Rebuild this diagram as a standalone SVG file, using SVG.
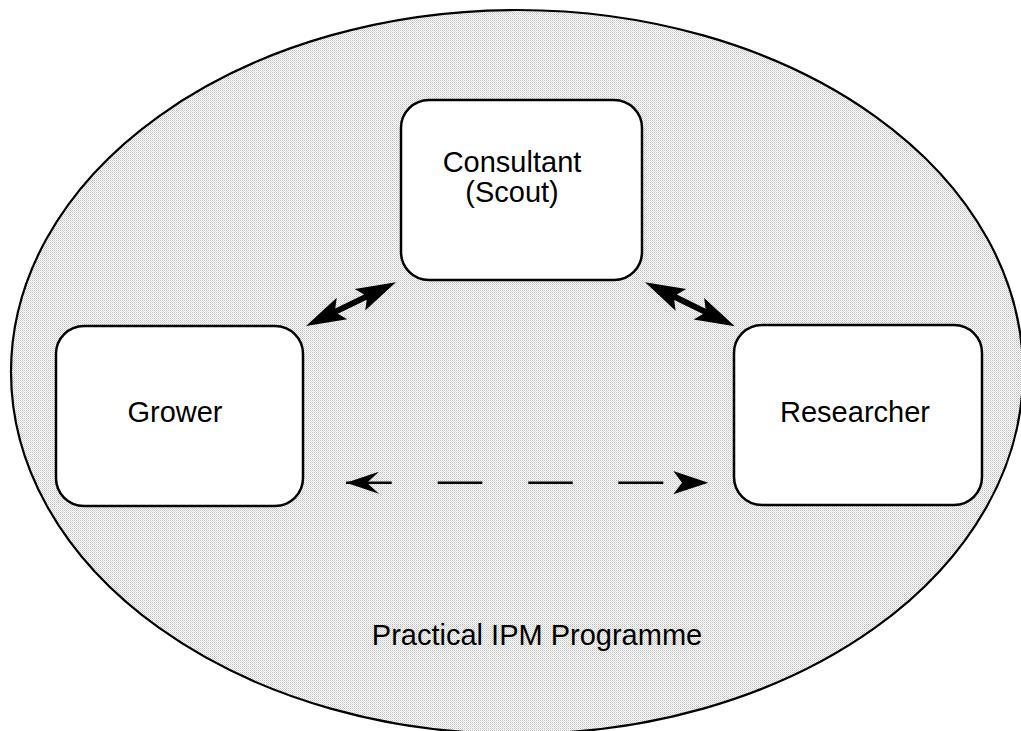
<svg xmlns="http://www.w3.org/2000/svg" width="1021" height="731" viewBox="0 0 1021 731">
  <defs>
    <!-- fine dither fill for the programme area -->
    <pattern id="dither" patternUnits="userSpaceOnUse" x="0" y="0" width="2" height="2">
      <rect width="2" height="2" fill="#ffffff"/>
      <rect x="0" y="0" width="1" height="1" fill="#c0c0c0"/>
      <rect x="1" y="1" width="1" height="1" fill="#d8d8d8"/>
    </pattern>
    <!-- solid double-headed arrow, 100 units long along +x -->
    <polygon id="dbl" points="0,0 40,-12 34,-3 66,-3 60,-12 100,0 60,12 66,3 34,3 40,12"/>
    <marker id="barb" viewBox="0 0 34 22" refX="33" refY="11" markerWidth="34" markerHeight="22" markerUnits="userSpaceOnUse" orient="auto-start-reverse">
      <polygon points="33,11 0,0 12,11 0,22" fill="#000"/>
    </marker>
  </defs>
  <style>
    .box { fill: #ffffff; stroke: #000000; stroke-width: 2.5; }
    .lbl { font-family: "Liberation Sans", Arial, sans-serif; font-size: 29px; fill: #000000; text-anchor: middle; }
    .dash { stroke: #000000; stroke-width: 2.5; fill: none; }
  </style>

  <g id="programme">
    <ellipse cx="517" cy="372" rx="506" ry="362" fill="url(#dither)" stroke="#000" stroke-width="2.2"/>
    <text class="lbl" x="537" y="645">Practical IPM Programme</text>
  </g>

  <g id="consultant">
    <rect class="box" x="401" y="100" width="241" height="180" rx="28" ry="28"/>
    <text class="lbl" x="512" y="172">Consultant</text>
    <text class="lbl" x="512" y="202">(Scout)</text>
  </g>

  <g id="grower">
    <rect class="box" x="56" y="326" width="247" height="180" rx="28" ry="28"/>
    <text class="lbl" x="175" y="422">Grower</text>
  </g>

  <g id="researcher">
    <rect class="box" x="734" y="325" width="248" height="180" rx="28" ry="28"/>
    <text class="lbl" x="855" y="422">Researcher</text>
  </g>

  <g id="connectors">
    <use href="#dbl" transform="translate(306,326) rotate(-25.9)"/>
    <use href="#dbl" transform="translate(645,282.3) rotate(26.1)"/>
    <line class="dash" x1="346" y1="482.7" x2="391.7" y2="482.7" marker-start="url(#barb)"/>
    <line class="dash" x1="437.7" y1="482.7" x2="482.3" y2="482.7"/>
    <line class="dash" x1="528.3" y1="482.7" x2="572.7" y2="482.7"/>
    <line class="dash" x1="618.3" y1="482.7" x2="663.3" y2="482.7"/>
    <polygon points="708.3,482.7 673.3,471 682,482.7 673.3,494.3" fill="#000"/>
  </g>
</svg>
